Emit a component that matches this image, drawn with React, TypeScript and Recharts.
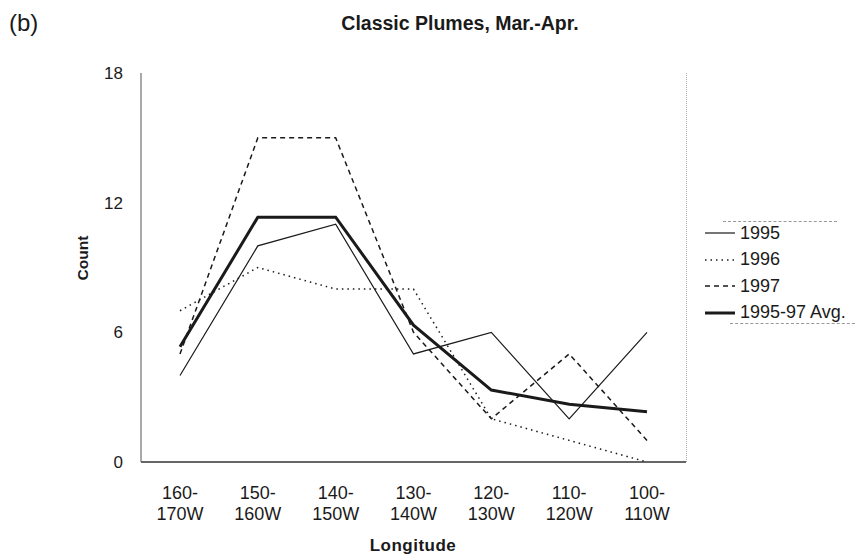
import { LineChart, Line, XAxis, YAxis } from 'recharts';

const longitudes = ['160-170W', '150-160W', '140-150W', '130-140W', '120-130W', '110-120W', '100-110W'];
const counts1995 = [4, 10, 11, 5, 6, 2, 6];
const counts1996 = [7, 9, 8, 8, 2, 1, 0];
const counts1997 = [5, 15, 15, 6, 2, 5, 1];
const countsAvg = [5.33, 11.33, 11.33, 6.33, 3.33, 2.67, 2.33];
const yTicks = [0, 6, 12, 18];

const data = longitudes.map((lon, i) => ({
  lon,
  y1995: counts1995[i],
  y1996: counts1996[i],
  y1997: counts1997[i],
  avg: countsAvg[i],
}));

const FONT = '"Liberation Sans", Arial, sans-serif';
const INK = '#1a1a1a';

const SERIES = [
  { key: 'y1995', name: '1995', width: 1.2, dash: undefined as string | undefined },
  { key: 'y1996', name: '1996', width: 1.5, dash: '1.5 4' },
  { key: 'y1997', name: '1997', width: 1.5, dash: '5 4' },
  { key: 'avg', name: '1995-97 Avg.', width: 3, dash: undefined as string | undefined },
];

function LonTick({ x, y, payload }: any) {
  const label: string = payload.value;
  const cut = label.indexOf('-') + 1;
  return (
    <g transform={`translate(${x},${y})`}>
      <text textAnchor="middle" fontSize={18} fill={INK} fontFamily={FONT}>
        <tspan x={0} dy={37}>{label.slice(0, cut)}</tspan>
        <tspan x={0} dy={21}>{label.slice(cut)}</tspan>
      </text>
    </g>
  );
}

function LegendBox() {
  return (
    <div style={{ position: 'absolute', left: 683, top: 221, width: 172, height: 103, fontFamily: FONT }}>
      <div style={{ position: 'absolute', left: 40, right: 18, top: 0, borderTop: '1px dashed #999' }} />
      <div style={{ position: 'absolute', left: 47, right: 0, bottom: 0, borderTop: '1px dashed #999' }} />
      {SERIES.map((s, i) => (
        <div key={s.key} style={{ position: 'absolute', left: 0, top: 1 + i * 26.5, height: 22, display: 'flex', alignItems: 'center' }}>
          <svg width={57} height={22}>
            <line x1={22} x2={52} y1={11} y2={11} stroke={INK} strokeWidth={s.width} strokeDasharray={s.dash} />
          </svg>
          <span style={{ fontSize: 18, color: INK }}>{s.name}</span>
        </div>
      ))}
    </div>
  );
}

export default function App() {
  return (
    <div style={{ position: 'absolute', left: 0, top: 0, width: 859, height: 559, background: '#fff', fontFamily: FONT }}>
      <div style={{ position: 'absolute', left: 9, top: 9, fontSize: 24, color: INK }}>(b)</div>
      <div
        style={{
          position: 'absolute',
          left: 0,
          width: 920,
          top: 12,
          textAlign: 'center',
          fontSize: 19.5,
          fontWeight: 'bold',
          color: INK,
        }}
      >
        Classic Plumes, Mar.-Apr.
      </div>
      <div
        style={{
          position: 'absolute',
          left: 83,
          top: 258,
          transform: 'translate(-50%, -50%) rotate(-90deg)',
          fontSize: 15.5,
          fontWeight: 'bold',
          color: INK,
        }}
      >
        Count
      </div>
      <div
        style={{
          position: 'absolute',
          left: 413,
          top: 546,
          transform: 'translate(-50%, -50%)',
          fontSize: 17,
          fontWeight: 'bold',
          color: INK,
          letterSpacing: 0.5,
        }}
      >
        Longitude
      </div>
      <div style={{ position: 'absolute', left: 686, top: 73, width: 0, height: 389, borderLeft: '1px dotted #aaa' }} />
      <LineChart width={859} height={559} data={data} margin={{ top: 73, right: 173, bottom: 0, left: 85 }}>
        <XAxis
          dataKey="lon"
          tickLine={false}
          tickSize={0}
          tickMargin={0}
          tick={<LonTick />}
          interval={0}
          stroke="#333"
          strokeWidth={1.5}
          height={97}
          padding={{ left: 39, right: 39 }}
        />
        <YAxis
          domain={[0, 18]}
          ticks={yTicks}
          width={56}
          tickLine={false}
          tickSize={0}
          tickMargin={18}
          stroke="#555"
          tick={{ fontSize: 17, fill: INK, fontFamily: FONT }}
        />
        {SERIES.map((s) => (
          <Line
            key={s.key}
            dataKey={s.key}
            name={s.name}
            type="linear"
            stroke={INK}
            strokeWidth={s.width}
            strokeDasharray={s.dash}
            dot={false}
            activeDot={false}
            isAnimationActive={false}
          />
        ))}
      </LineChart>
      <LegendBox />
    </div>
  );
}
